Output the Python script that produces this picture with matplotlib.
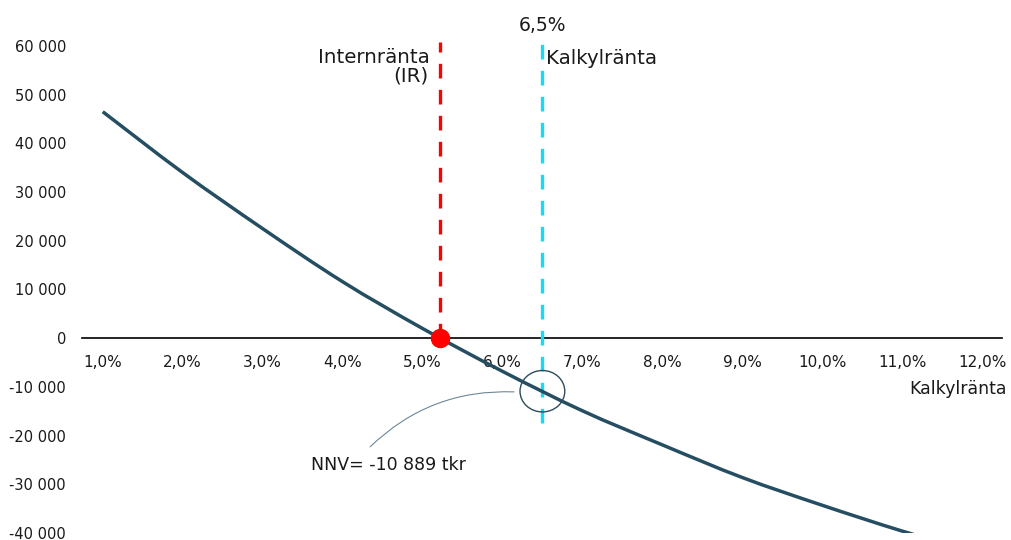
import matplotlib
matplotlib.use("Agg")
import matplotlib.pyplot as plt
from matplotlib.patches import Ellipse, FancyArrowPatch, PathPatch
from matplotlib.path import Path

# Net present value (tkr) against discount rate (%)
rates = [1.0, 2.0, 3.0, 4.0, 5.0, 6.0, 7.0, 8.0, 9.0, 10.0, 11.0, 12.0]
npv = [46500, 34000, 22500, 11600, 2000, -6800, -14900, -21900, -28600, -34300, -39600, -44400]
rate_labels = ["1,0%", "2,0%", "3,0%", "4,0%", "5,0%", "6,0%", "7,0%", "8,0%",
               "9,0%", "10,0%", "11,0%", "12,0%"]
y_ticks = [-40000, -30000, -20000, -10000, 0, 10000, 20000, 30000, 40000, 50000, 60000]
y_labels = ["-40 000", "-30 000", "-20 000", "-10 000", "0", "10 000", "20 000",
            "30 000", "40 000", "50 000", "60 000"]

irr = 5.22           # internal rate of return
calc_rate = 6.5      # chosen discount rate
npv_at_calc = -10889

plt.rcParams["font.family"] = ["DejaVu Sans"]
text_color = "#1a1a1a"
curve_color = "#264E62"


def smooth_path(xs, ys, tension=1 / 6):
    """Cubic Bezier path through the points (Catmull-Rom style smoothing)."""
    verts = [(xs[0], ys[0])]
    codes = [Path.MOVETO]
    n = len(xs)
    for i in range(n - 1):
        x0, y0 = (xs[i - 1], ys[i - 1]) if i > 0 else (xs[i], ys[i])
        x1, y1 = xs[i], ys[i]
        x2, y2 = xs[i + 1], ys[i + 1]
        x3, y3 = (xs[i + 2], ys[i + 2]) if i + 2 < n else (x2, y2)
        c1 = (x1 + (x2 - x0) * tension, y1 + (y2 - y0) * tension)
        c2 = (x2 - (x3 - x1) * tension, y2 - (y3 - y1) * tension)
        verts += [c1, c2, (x2, y2)]
        codes += [Path.CURVE4] * 3
    return Path(verts, codes)


fig = plt.figure(figsize=(10.11, 5.40), dpi=100)
ax = fig.add_axes([0.0811, 0.01296, 0.910, 0.9019])

ax.set_xlim(0.74, 12.25)
ax.set_ylim(-40000, 60000)

# NPV curve (smoothed line through the values)
ax.add_patch(PathPatch(smooth_path(rates, npv), fill=False, edgecolor=curve_color,
                       lw=2.5, capstyle="butt", zorder=3))

# Internal rate line and zero crossing marker
ax.plot([irr, irr], [0, 60800], color="#FF0000", lw=2.4, dashes=(4.4, 3.4),
        clip_on=False, zorder=2)
ax.plot([irr], [0], "o", color="#FF0000", ms=13, zorder=5, clip_on=False)

# Chosen discount rate line
ax.plot([calc_rate, calc_rate], [-17400, 60800], color="#12DDF5", lw=2.4,
        dashes=(4.4, 3.4), clip_on=False, zorder=2)

# Circle around the NPV at the chosen rate, with a leader to its label
ax.add_patch(Ellipse((calc_rate, npv_at_calc), width=0.56, height=8500,
                     fill=False, edgecolor="#2F4B5C", lw=1.0, zorder=4))
ax.add_patch(FancyArrowPatch((4.32, -22700), (6.18, -11050),
                             connectionstyle="arc3,rad=-0.22", arrowstyle="-",
                             color="#6E8797", lw=0.8, zorder=4))
ax.text(4.58, -26000, "NNV= -10 889 tkr", ha="center", va="center",
        fontsize=12.5, color=text_color)

# Labels near the vertical lines
ax.text(irr - 0.13, 56470, "Internränta", ha="right", va="baseline",
        fontsize=14.3, color=text_color, clip_on=False)
ax.text(irr - 0.15, 52770, "(IR)", ha="right", va="baseline",
        fontsize=14.3, color=text_color, clip_on=False)
ax.text(calc_rate + 0.05, 56260, "Kalkylränta", ha="left", va="baseline",
        fontsize=14.3, color=text_color, clip_on=False)
ax.text(calc_rate, 63040, "6,5%", ha="center", va="baseline",
        fontsize=13.5, color=text_color, clip_on=False)

# Axis title at the right end of the rate axis
ax.text(12.31, -11500, "Kalkylränta", ha="right", va="baseline",
        fontsize=12.5, color=text_color, clip_on=False)

# Axes styling: only the horizontal axis through zero is drawn
for side in ("top", "right", "left"):
    ax.spines[side].set_visible(False)
ax.spines["bottom"].set_position(("data", 0))
ax.spines["bottom"].set_color("black")
ax.spines["bottom"].set_linewidth(1.2)
ax.spines["bottom"].set_zorder(1)

ax.set_xticks(rates)
ax.set_xticklabels(rate_labels)
ax.set_yticks(y_ticks)
ax.set_yticklabels(y_labels)
ax.tick_params(axis="x", length=0, pad=12, labelsize=11, labelcolor=text_color)
ax.tick_params(axis="y", length=0, pad=11.5, labelsize=10.5, labelcolor=text_color)
ax.patch.set_visible(False)

fig.savefig("out.png", dpi=100)
